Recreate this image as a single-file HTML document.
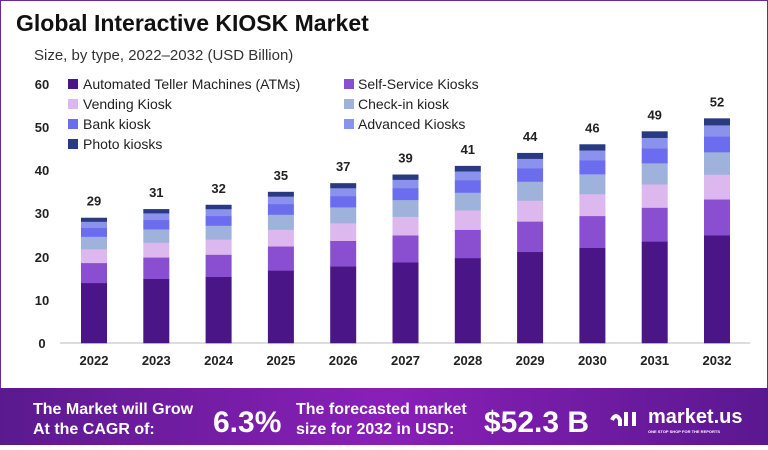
<!DOCTYPE html>
<html><head><meta charset="utf-8"><style>
body{margin:0;width:768px;height:445px;overflow:hidden;background:#fff;font-family:"Liberation Sans",sans-serif}
</style></head><body>
<svg id="s" width="768" height="445" xmlns="http://www.w3.org/2000/svg" font-family="Liberation Sans, sans-serif">
<defs><linearGradient id="g" x1="0" x2="1" y1="0" y2="0"><stop offset="0" stop-color="#5a1a8e"/><stop offset="0.5" stop-color="#8a1fb8"/><stop offset="1" stop-color="#5a1890"/></linearGradient></defs>
<rect x="0.5" y="0.5" width="767" height="444" fill="#fff" stroke="#6a2a9a"/>
<text x="16" y="31" font-size="23" font-weight="bold" fill="#111">Global Interactive KIOSK Market</text>
<text x="34" y="60" font-size="15" fill="#333">Size, by type, 2022–2032 (USD Billion)</text>
<g font-size="13" font-weight="bold" fill="#222" text-anchor="middle">
<text x="42" y="89">60</text><text x="42" y="132">50</text><text x="42" y="175">40</text><text x="42" y="218">30</text><text x="42" y="262">20</text><text x="42" y="305">10</text><text x="42" y="348">0</text>
</g>
<line x1="60" y1="343" x2="750" y2="343" stroke="#bbb"/>
<g id="bars"></g>
<g font-size="14" fill="#222">
<rect x="68" y="79" width="10" height="10" fill="#4a1586"/><text x="83" y="89">Automated Teller Machines (ATMs)</text>
<rect x="68" y="99" width="10" height="10" fill="#dcb8ee"/><text x="83" y="109">Vending Kiosk</text>
<rect x="68" y="119" width="10" height="10" fill="#6c6cee"/><text x="83" y="129">Bank kiosk</text>
<rect x="68" y="139" width="10" height="10" fill="#2a3a80"/><text x="83" y="149">Photo kiosks</text>
<rect x="344" y="79" width="10" height="10" fill="#8a4fd0"/><text x="358" y="89">Self-Service Kiosks</text>
<rect x="344" y="99" width="10" height="10" fill="#9fb2dc"/><text x="358" y="109">Check-in kiosk</text>
<rect x="344" y="119" width="10" height="10" fill="#8a92ee"/><text x="358" y="129">Advanced Kiosks</text>
</g>
<rect x="0" y="388" width="768" height="57" fill="url(#g)"/>
<g fill="#fff" font-weight="bold">
<text x="33" y="414" font-size="16">The Market will Grow</text>
<text x="33" y="434" font-size="16">At the CAGR of:</text>
<text x="213" y="432" font-size="30">6.3%</text>
<text x="296" y="414" font-size="16">The forecasted market</text>
<text x="296" y="434" font-size="16">size for 2032 in USD:</text>
<text x="484" y="432" font-size="30">$52.3 B</text>
<text x="648" y="423" font-size="20">market.us</text>
<text x="648" y="433" font-size="4">ONE STOP SHOP FOR THE REPORTS</text>
<path d="M612 420 q4 -8 8 0 v6 M626 412 v14 M634 412 v14" stroke="#fff" stroke-width="4" fill="none"/>
</g>
<g font-size="13" font-weight="bold" fill="#222" text-anchor="middle" id="yrs"></g>
</svg>
<script>
var tot=[29,31,32,35,37,39,41,44,46,49,52],fr=[.48,.16,.11,.10,.07,.05,.03],
col=["#4a1586","#8a4fd0","#dcb8ee","#9fb2dc","#6c6cee","#8a92ee","#2a3a80"],ns="http://www.w3.org/2000/svg",
b=document.getElementById("bars"),yr=document.getElementById("yrs");
function el(t,a,p,tx){var e=document.createElementNS(ns,t);for(var k in a)e.setAttribute(k,a[k]);if(tx)e.textContent=tx;p.appendChild(e);}
tot.forEach(function(T,i){var cx=94+i*62.3,y=343;fr.forEach(function(f,j){var h=T*f*4.32;y-=h;el("rect",{x:cx-13,y:y,width:26,height:h+0.3,fill:col[j]},b);});
el("text",{x:cx,y:y-12},yr,String(T));el("text",{x:cx,y:365},yr,String(2022+i));});
</script>
</body></html>
